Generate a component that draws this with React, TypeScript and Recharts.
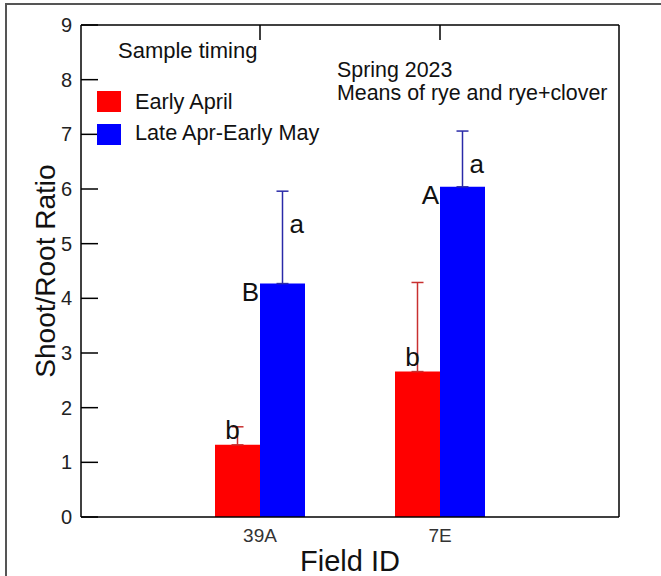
import { BarChart, Bar, XAxis, YAxis, ErrorBar, LabelList } from "recharts";

const fields = ["39A", "7E"];
const earlyApril = [1.32, 2.66];
const lateAprEarlyMay = [4.27, 6.04];
const earlyErr = [0.33, 1.63];
const lateErr = [1.69, 1.02];
const earlyLetters = ["b", "b"];
const lateLetters = ["a", "a"];
const lateRankLetters = ["B", "A"];
const yTicks = [0, 1, 2, 3, 4, 5, 6, 7, 8, 9];

const data = fields.map((field, i) => ({
  field,
  early: earlyApril[i],
  late: lateAprEarlyMay[i],
  earlyErr: [0, earlyErr[i]],
  lateErr: [0, lateErr[i]],
}));

const FONT = '"Liberation Sans", Arial, sans-serif';
const RED = "#ff0000";
const BLUE = "#0000ff";

const LeftTick = ({ x, y, payload }: any) => (
  <g>
    <line x1={x} x2={x + 17} y1={y} y2={y} stroke="#000" strokeWidth={1.5} />
    <text x={x - 9} y={y} dy={7} textAnchor="end" fontSize={20} fill="#222">
      {payload.value}
    </text>
  </g>
);

const RightTick = ({ x, y }: any) => (
  <line x1={x - 16} x2={x} y1={y} y2={y} stroke="#000" strokeWidth={1.5} />
);

const TopTick = ({ x, y }: any) => (
  <line x1={x} x2={x} y1={y} y2={y + 15} stroke="#000" strokeWidth={1.5} />
);

const BottomTick = ({ x, y, payload }: any) => (
  <text x={x} y={y + 25} textAnchor="middle" fontSize={19} fill="#333">
    {payload.value}
  </text>
);

const earlyLabel = (p: any) => {
  const { x, y, width, index } = p;
  const cx = Number(x) + Number(width) / 2;
  return (
    <text x={cx - 5} y={Number(y) - 6} textAnchor="middle" fontSize={26} fill="#111">
      {earlyLetters[index]}
    </text>
  );
};

const lateLabel = (p: any) => {
  const { x, y, width, height, index } = p;
  const cx = Number(x) + Number(width) / 2;
  const unit = Number(height) / lateAprEarlyMay[index];
  const errTop = Number(y) - lateErr[index] * unit;
  return (
    <g>
      <text x={Number(x) - 1} y={Number(y) + 17} textAnchor="end" fontSize={26} fill="#111">
        {lateRankLetters[index]}
      </text>
      <text x={cx + 7} y={errTop + 42} textAnchor="start" fontSize={26} fill="#111">
        {lateLetters[index]}
      </text>
    </g>
  );
};

export default function App() {
  return (
    <div
      style={{
        position: "absolute",
        left: 0,
        top: 0,
        width: 661,
        height: 576,
        overflow: "hidden",
        background: "#fff",
        fontFamily: FONT,
      }}
    >
      <div
        style={{
          position: "absolute",
          left: 5,
          top: 3,
          width: 700,
          height: 700,
          borderLeft: "2px solid #555",
          borderTop: "2px solid #555",
        }}
      />
      <div style={{ position: "absolute", left: 0, top: 0 }}>
        <BarChart
          width={661}
          height={576}
          data={data}
          margin={{ top: 24, right: 41, bottom: 0, left: 9 }}
          barSize={45}
          barGap={0}
        >
          <XAxis
            dataKey="field"
            height={59}
            padding={{ left: 89, right: 89 }}
            axisLine={{ stroke: "#000", strokeWidth: 1.5 }}
            tickLine={false}
            tickSize={0}
            tickMargin={0}
            tick={<BottomTick />}
            label={{ value: "Field ID", position: "insideBottom", offset: 5, fontSize: 29, fill: "#111" }}
          />
          <XAxis
            xAxisId="top"
            dataKey="field"
            orientation="top"
            height={1}
            padding={{ left: 89, right: 89 }}
            axisLine={{ stroke: "#000", strokeWidth: 1.5 }}
            tickLine={false}
            tickSize={0}
            tickMargin={0}
            tick={<TopTick />}
          />
          <YAxis
            width={72}
            domain={[0, 9]}
            ticks={yTicks}
            interval={0}
            axisLine={{ stroke: "#000", strokeWidth: 1.5 }}
            tickLine={false}
            tickSize={0}
            tickMargin={0}
            tick={<LeftTick />}
            label={{ value: "Shoot/Root Ratio", angle: -90, position: "center", fontSize: 28, fill: "#111" }}
          />
          <YAxis
            yAxisId="r"
            orientation="right"
            width={1}
            domain={[0, 9]}
            ticks={yTicks}
            interval={0}
            axisLine={{ stroke: "#000", strokeWidth: 1.5 }}
            tickLine={false}
            tickSize={0}
            tickMargin={0}
            tick={<RightTick />}
          />
          <Bar dataKey="early" name="Early April" fill={RED} isAnimationActive={false}>
            <ErrorBar dataKey="earlyErr" width={6} stroke="#c83030" strokeWidth={1.5} />
            <LabelList dataKey="early" content={earlyLabel} />
          </Bar>
          <Bar dataKey="late" name="Late Apr-Early May" fill={BLUE} isAnimationActive={false}>
            <ErrorBar dataKey="lateErr" width={6} stroke="#2a2aa8" strokeWidth={1.5} />
            <LabelList dataKey="late" content={lateLabel} />
          </Bar>
        </BarChart>
      </div>
      <svg
        width={661}
        height={576}
        style={{ position: "absolute", left: 0, top: 0, pointerEvents: "none" }}
      >
        <text x={118} y={58} fontSize={22} fill="#111">Sample timing</text>
        <rect x={97} y={91} width={24} height={21} fill={RED} />
        <text x={135} y={109} fontSize={21.7} fill="#111">Early April</text>
        <rect x={97} y={124} width={24} height={21} fill={BLUE} />
        <text x={135} y={140} fontSize={21.7} fill="#111">Late Apr-Early May</text>
        <text x={337} y={77} fontSize={21.4} fill="#111">Spring 2023</text>
        <text x={337} y={100} fontSize={21.4} fill="#111">Means of rye and rye+clover</text>
      </svg>
    </div>
  );
}
